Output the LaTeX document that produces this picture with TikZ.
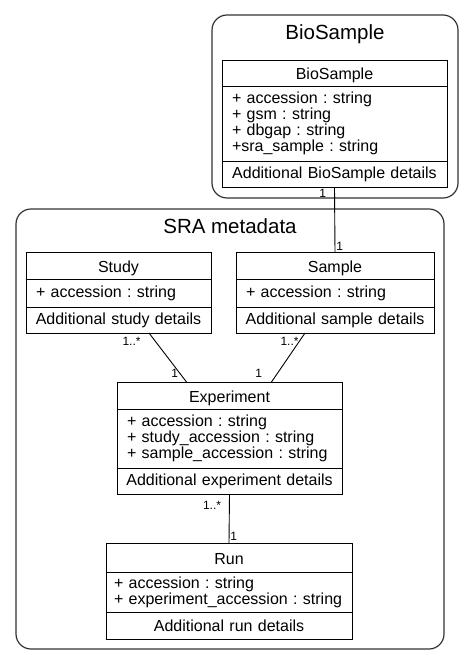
\documentclass[tikz,border=0pt]{standalone}
\usepackage{fontspec}
\setmainfont{Liberation Sans}
\frenchspacing
\usetikzlibrary{positioning,calc}

\begin{document}
\begin{tikzpicture}[
		x=1pt, y=-1pt,
		container/.style = {draw=black!80, line width=1.2pt, rounded corners=15pt},
		part/.style = {draw, line width=0.9pt, outer sep=0pt, inner xsep=5pt, inner ysep=2pt, text width=#1, font=\fontsize{16}{16}\selectfont},
		classhead/.style = {part=#1, align=center, text height=13pt, text depth=0pt},
		classattr/.style = {part=#1, align=left, inner xsep=10pt},
		classdetail/.style = {part=#1, align=center},
		link/.style = {line width=0.9pt},
		mult/.style = {inner sep=0pt, font=\fontsize{12}{12}\selectfont},
		title/.style = {anchor=base, font=\fontsize{20.5}{24}\selectfont}
		]

	\useasboundingbox (0,0) rectangle (473,667);

	% BioSample
	\draw[container] (212,15) rectangle (458,198);
	\node[title] (biotitle) at (335,39.3) {BioSample};

	\coordinate (bio) at (222,60);
	\node[classhead=215pt, minimum height=26pt, anchor=north west] (bio-h) at (bio) {BioSample};
	\node[classattr=205pt, minimum height=75pt, below=0pt of bio-h] (bio-a) {+ accession : string\\+ gsm : string\\+ dbgap : string\\+sra\_sample : string};
	\node[classdetail=215pt, minimum height=26pt, below=0pt of bio-a] (bio-d) {Additional BioSample details};

	% SRA metadata
	\draw[container] (16,209) rectangle (444,649);
	\node[title] (sratitle) at (230,233.3) {SRA metadata};

	\coordinate (study) at (26,252);
	\coordinate (sample) at (236,252);
	\coordinate (exp) at (117,382);
	\coordinate (run) at (106,543);

	\node[classhead=175pt, minimum height=27pt, anchor=north west] (study-h) at (study) {Study};
	\node[classattr=165pt, minimum height=28pt, below=0pt of study-h] (study-a) {+ accession : string};
	\node[classdetail=175pt, minimum height=26pt, below=0pt of study-a] (study-d) {Additional study details};

	\node[classhead=188pt, minimum height=27pt, anchor=north west] (sample-h) at (sample) {Sample};
	\node[classattr=178pt, minimum height=28pt, below=0pt of sample-h] (sample-a) {+ accession : string};
	\node[classdetail=188pt, minimum height=26pt, below=0pt of sample-a] (sample-d) {Additional sample details};

	\node[classhead=215pt, minimum height=27pt, anchor=north west] (exp-h) at (exp) {Experiment};
	\node[classattr=205pt, minimum height=59pt, below=0pt of exp-h] (exp-a) {+ accession : string\\+ study\_accession : string\\+ sample\_accession : string};
	\node[classdetail=215pt, minimum height=26pt, below=0pt of exp-a] (exp-d) {Additional experiment details};

	\node[classhead=236pt, minimum height=29pt, anchor=north west] (run-h) at (run) {Run};
	\node[classattr=230pt, inner xsep=8pt, minimum height=40pt, below=0pt of run-h] (run-a) {+ accession : string\\+ experiment\_accession : string};
	\node[classdetail=236pt, minimum height=27pt, below=0pt of run-a] (run-d) {Additional run details};

	% associations
	\draw[link] (bio-d.south) -- (sample-h.north)
		node[mult, at start, anchor=north east, xshift=-8pt, yshift=-2pt] (m1) {1}
		node[mult, at end, anchor=south west, xshift=1pt, yshift=1pt] (m2) {1};
	\draw[link] ($(study-d.south)+(30.5,0)$) -- ($(exp-h.north)+(-43,0)$)
		node[mult, at start, anchor=north east, xshift=-8pt, yshift=-4pt] (m3) {1..*}
		node[mult, at end, anchor=south east, xshift=-8pt, yshift=4pt] (m4) {1};
	\draw[link] ($(sample-d.south)+(-30,0)$) -- ($(exp-h.north)+(42,0)$)
		node[mult, at start, anchor=north east, xshift=-6pt, yshift=-4pt] (m5) {1..*}
		node[mult, at end, anchor=south east, xshift=-9pt, yshift=4pt] (m6) {1};
	\draw[link] (exp-d.south) -- (run-h.north)
		node[mult, at start, anchor=north east, xshift=-8pt, yshift=-6.5pt] (m7) {1..*}
		node[mult, at end, anchor=south west, xshift=1pt, yshift=2pt] (m8) {1};
\end{tikzpicture}
\end{document}
